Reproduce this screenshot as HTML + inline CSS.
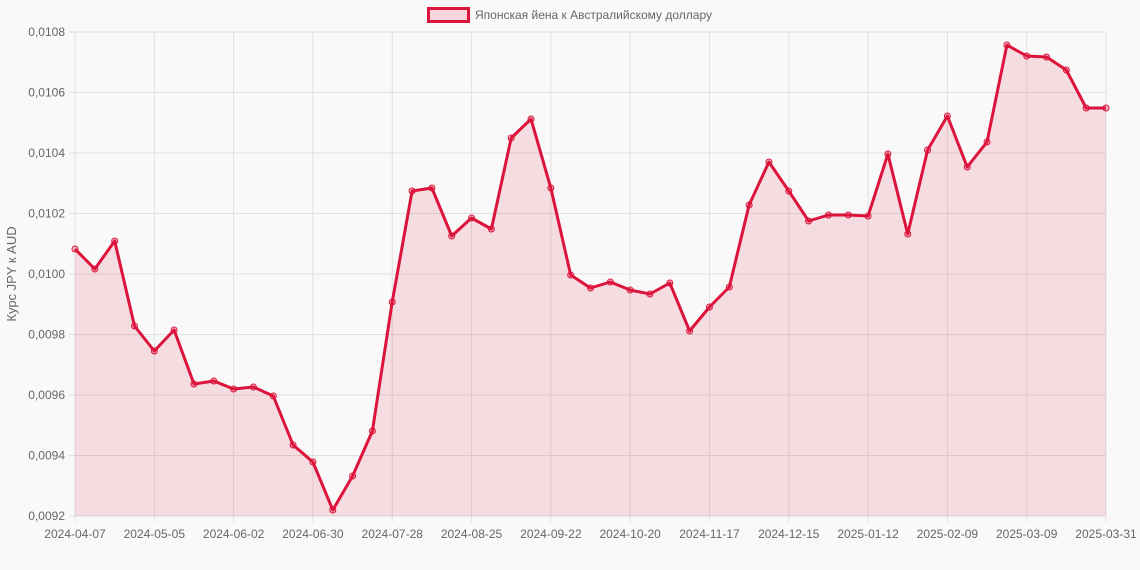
<!DOCTYPE html>
<html><head><meta charset="utf-8"><style>
html,body{margin:0;padding:0;background:#f9f9f9;}
svg{display:block;font-family:"Liberation Sans",sans-serif;}
</style></head><body>
<svg id="c" width="1140" height="570" xmlns="http://www.w3.org/2000/svg">
<rect width="1140" height="570" fill="#f9f9f9"/>
<g id="grid" stroke="#e0e0e0" stroke-width="1"></g>
<path id="area" fill="rgba(220,20,60,0.12)"/>
<polyline id="line" fill="none" stroke="#dc143c" stroke-width="3" stroke-linejoin="round"/>
<g id="pts" fill="rgba(220,20,60,0.25)" stroke="#dc143c" stroke-width="1"></g>
<g id="yl" font-size="12" fill="#666" text-anchor="end"></g>
<g id="xl" font-size="12" fill="#666" text-anchor="middle"></g>
<text transform="translate(16,274) rotate(-90)" font-size="13" fill="#666" text-anchor="middle">Курс JPY к AUD</text>
<rect x="428.5" y="8.5" width="40" height="13" fill="#f9d4dc" stroke="#dc143c" stroke-width="3"/>
<text x="475" y="19" font-size="12" fill="#666">Японская йена к Австралийскому доллару</text>
</svg>
<script>
var ys=[249,269,241,326,351,330,384,381,389,387,396,445,462,510,476,431,302,191,188,236,218,229,138,119,188,275,288,282,290,294,283,331,307,287,205,162,191,221,215,215,216,154,234,150,116,167,142,45,56,57,70,108,108];
var NS="http://www.w3.org/2000/svg";
function el(t,a,p){var e=document.createElementNS(NS,t);for(var k in a)e.setAttribute(k,a[k]);document.getElementById(p).appendChild(e);return e;}
var x0=75,x1=1106,y0=32,y1=516;
for(var i=0;i<=8;i++){var y=y0+i*(y1-y0)/8;el('line',{x1:x0-6,x2:x1,y1:y,y2:y},'grid');
var t=el('text',{x:65,y:y+4},'yl');t.textContent=(0.0108-i*0.0002).toFixed(4).replace('.',',');}
var labs=['2024-04-07','2024-05-05','2024-06-02','2024-06-30','2024-07-28','2024-08-25','2024-09-22','2024-10-20','2024-11-17','2024-12-15','2025-01-12','2025-02-09','2025-03-09','2025-03-31'];
var dx=(x1-x0)/52;
for(var i=0;i<labs.length;i++){var x=i<13?x0+i*4*dx:x1;el('line',{x1:x,x2:x,y1:y0,y2:y1+6},'grid');
var t=el('text',{x:x,y:538},'xl');t.textContent=labs[i];}
var p=[],d='M'+x0+','+y1;
for(var i=0;i<ys.length;i++){var x=x0+i*dx;p.push(x.toFixed(1)+','+ys[i]);d+=' L'+x.toFixed(1)+','+ys[i];el('circle',{cx:x,cy:ys[i],r:3},'pts');}
d+=' L'+x1+','+y1+' Z';
document.getElementById('area').setAttribute('d',d);
document.getElementById('line').setAttribute('points',p.join(' '));
</script>
</body></html>
